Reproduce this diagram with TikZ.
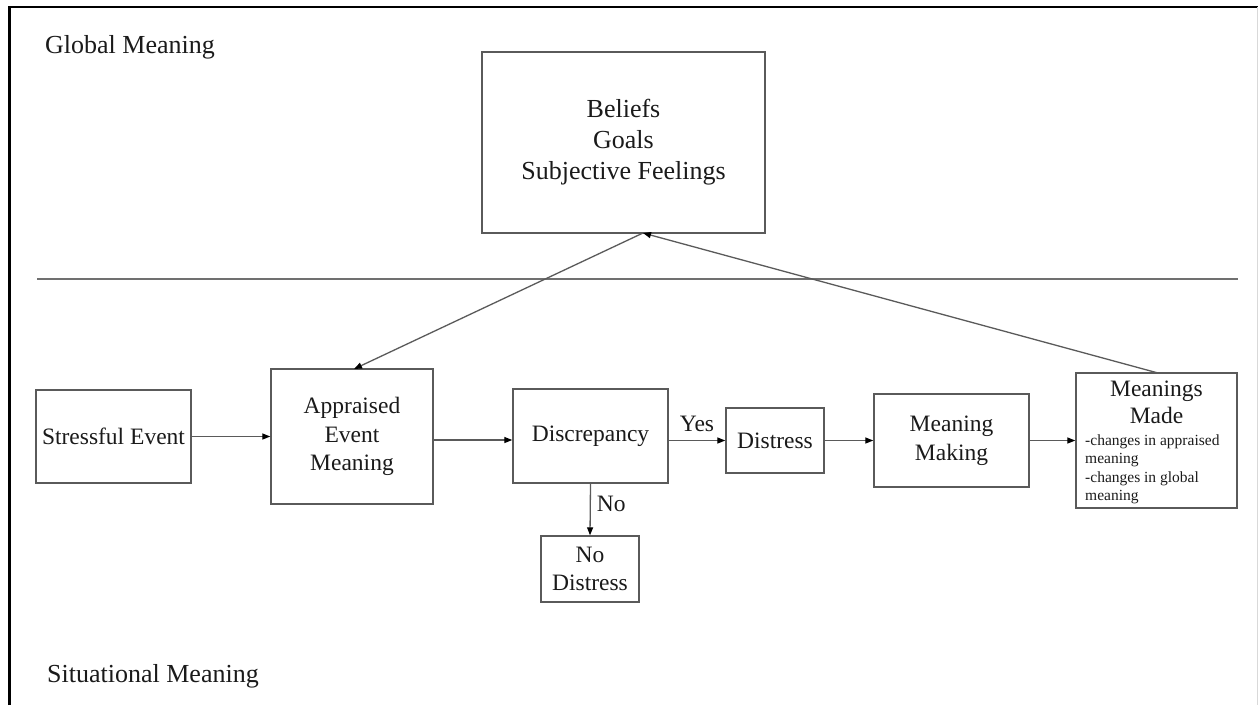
\documentclass[tikz,border=0pt]{standalone}
\usepackage{fontspec}
\setmainfont{Liberation Serif}
\usetikzlibrary{arrows.meta}
\definecolor{boxline}{HTML}{5A5A5A}
\definecolor{ink}{HTML}{1A1A1A}
\definecolor{divline}{HTML}{707070}
\tikzset{
  box/.style={draw=boxline, line width=1.4pt, inner sep=2pt, align=center, text=ink,
    font=\fontsize{23.5}{28.5}\selectfont, anchor=center},
  topbox/.style={box, font=\fontsize{26}{31}\selectfont},
  conn/.style={draw=boxline, line width=1.3pt, -{Triangle[length=8pt,width=6pt,color=black]}},
  lbl/.style={text=ink, font=\fontsize{23.5}{28.5}\selectfont, inner sep=0pt},
  headtxt/.style={lbl, anchor=base},
  smalltxt/.style={text=ink, font=\fontsize{15.5}{18.5}\selectfont, inner sep=0pt, anchor=base west},
  header/.style={text=ink, font=\fontsize{26}{31}\selectfont, inner sep=0pt, anchor=base west},
}
\begin{document}
\begin{tikzpicture}[x=1pt,y=-1pt]
\useasboundingbox (0,0) rectangle (1258,705);
% frame
\coordinate (fTL) at (9.5,7);
\coordinate (fTR) at (1258,7);
\coordinate (fBL) at (9.5,705);
\coordinate (fRT) at (1257,7);
\coordinate (fRB) at (1257,705);
\draw[line width=2.6pt, black] (fBL) -- (fTL) -- (fTR);
\draw[line width=1pt, black!15] (fRT) -- (fRB);
% divider
\coordinate (dL) at (37,279);
\coordinate (dR) at (1238,279);
\draw[line width=1.8pt, divline] (dL) -- (dR);
% headers
\node[header] (gm) at (45,53) {Global Meaning};
\node[header] (sm) at (47,682) {Situational Meaning};
% boxes
\node[topbox, minimum width=283pt, minimum height=181pt] (top) at (623.5,142.5) {Beliefs\\Goals\\Subjective Feelings};
\node[box, minimum width=155pt, minimum height=93pt] (stress) at (113.5,436.5) {Stressful Event};
\node[box, minimum width=162pt, minimum height=135pt] (appr) at (352,436.5) {Appraised\\Event\\Meaning};
\node[box, minimum width=155pt, minimum height=94pt] (disc) at (590.5,436) {Discrepancy};
\node[box, minimum width=98pt, minimum height=65pt] (dist) at (775,440.5) {Distress};
\node[box, minimum width=155pt, minimum height=93pt] (mm) at (951.5,440.5) {Meaning\\Making};
\node[box, minimum width=161pt, minimum height=135pt] (made) at (1156.5,440.5) {};
\node[headtxt] (made1) at (1156.5,396) {Meanings};
\node[headtxt] (made2) at (1156.5,423) {Made};
\node[smalltxt] (made3) at (1085,445) {-changes in appraised};
\node[smalltxt] (made4) at (1085,463) {meaning};
\node[smalltxt] (made5) at (1085,482) {-changes in global};
\node[smalltxt] (made6) at (1085,500) {meaning};
\node[box, minimum width=98pt, minimum height=66pt] (nod) at (590,569) {No\\Distress};
% connectors
\coordinate (T) at (643,233);
\coordinate (madeTop) at (1158,373);
\coordinate (apprTop) at (354,369);
\coordinate (row) at (0,440);
\draw[conn] (stress.east) -- (appr.west);
\draw[conn] (appr.east |- row) -- (disc.west |- row);
\draw[conn] (disc.east |- dist.west) -- node[lbl, above=8pt, pos=0.5] (yes) {Yes} (dist.west);
\draw[conn] (dist.east) -- (mm.west);
\draw[conn] (mm.east) -- (made.west);
\draw[conn] (disc.south) -- node[lbl, right=6pt, pos=0.4] (no) {No} (nod.north);
\draw[conn] (T) -- (apprTop);
\draw[conn] (madeTop) -- (T);
\end{tikzpicture}
\end{document}
